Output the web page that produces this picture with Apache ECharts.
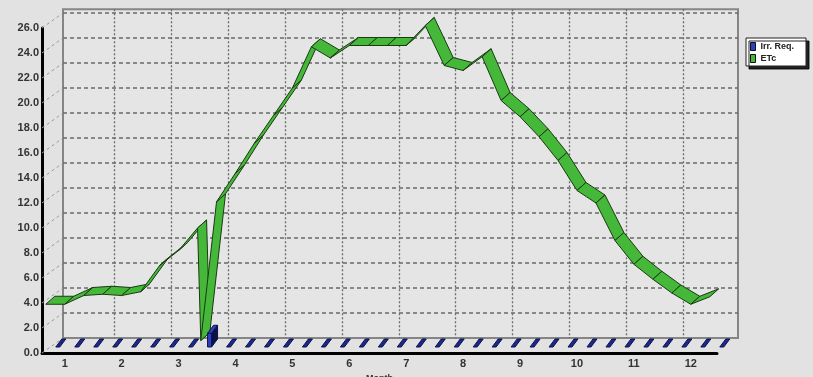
<!DOCTYPE html>
<html>
<head>
<meta charset="utf-8">
<script src="https://cdn.jsdelivr.net/npm/echarts@6/dist/echarts.min.js"></script>
<style>
	html, body { margin: 0; padding: 0; background: #e2e2e2; }
	#chart { width: 813px; height: 377px; }
</style>
</head>
<body>
<div id="chart"></div>
<script>
// month labels on the x axis
const months = [1, 2, 3, 4, 5, 6, 7, 8, 9, 10, 11, 12];
// y axis ticks
const yTicks = [0, 2, 4, 6, 8, 10, 12, 14, 16, 18, 20, 22, 24, 26];

// ETc per decade (3 per month), mm/dec
const etc = [
	3.9, 3.9, 4.6,   4.7, 4.6, 4.9,   7.0, 8.2, 10.0,
	12.1, 14.4, 16.8,   19.0, 21.2, 24.5,   23.6, 24.6, 24.6,
	24.6, 24.6, 26.2,   23.0, 22.6, 23.7,   20.2, 18.9, 17.3,
	15.4, 13.0, 12.0,   9.0, 7.1, 5.9,   4.8, 3.9, 4.5
];
// Irr. Req per decade
const irrReq = [
	0, 0, 0,   0, 0, 0,   0, 0, 1.1,
	0, 0, 0,   0, 0, 0,   0, 0, 0,
	0, 0, 0,   0, 0, 0,   0, 0, 0,
	0, 0, 0,   0, 0, 0,   0, 0, 0
];
// end of first crop / start of second one, between decade 9 and 10
const cropGapAfter = 8;
const cropGapX = 3.39;
const cropGapValue = 1.0;

const xMin = 0.6, xMax = 12.46;
const depth = [21, -15];          // 3d offset of the back wall
const ribbonDepth = [9, -8];
const green = '#45b83a', greenEdge = '#1a3a12';
const blue = '#2c40c0', blueDark = '#1a2890', blueEdge = '#0b1248';

// decade positions in month units (label sits on the middle decade)
const decadeX = months.flatMap(m => [m - 1/3, m, m + 1/3]);

const ribbonPts = [];
decadeX.forEach((x, i) => {
	ribbonPts.push([x, etc[i]]);
	if (i === cropGapAfter) ribbonPts.push([cropGapX, cropGapValue]);
});
const segments = [];
for (let i = 0; i < ribbonPts.length - 1; i++) {
	segments.push([ribbonPts[i][0], ribbonPts[i][1], ribbonPts[i+1][0], ribbonPts[i+1][1]]);
}

const font = 'Liberation Sans, Arial, sans-serif';
const chart = echarts.init(document.getElementById('chart'), null, {renderer: 'canvas'});

chart.setOption({
	backgroundColor: '#e2e2e2',
	animation: false,
	textStyle: {fontFamily: font},
	grid: [
		// front plane
		{left: 42, right: 96, top: 28, bottom: 24, outerBoundsMode: 'none'},
		// back wall
		{left: 63, right: 75, top: 9.25, bottom: 39, outerBoundsMode: 'none', show: true,
			backgroundColor: '#e5e5e5', borderColor: '#858585', borderWidth: 2},
		// vertical dotted lines of the back wall (month boundaries)
		{left: 57.3, right: 72.8, top: 9.25, bottom: 39, outerBoundsMode: 'none'}
	],
	legend: {
		data: ['Irr. Req.', 'ETc'],
		orient: 'vertical',
		left: 746, top: 38,
		padding: [4, 12, 3, 4],
		itemWidth: 5, itemHeight: 8, itemGap: 3,
		icon: 'rect',
		backgroundColor: '#ffffff',
		borderColor: '#222', borderWidth: 1,
		shadowColor: 'rgba(0,0,0,0.85)', shadowOffsetX: 3, shadowOffsetY: 3, shadowBlur: 0,
		itemStyle: {borderColor: '#111', borderWidth: 1},
		textStyle: {fontSize: 9, fontWeight: 'bold', color: '#222'}
	},
	xAxis: [
		{
			gridIndex: 0, type: 'value', min: xMin, max: xMax,
			name: 'Month', nameLocation: 'middle', nameGap: 16,
			nameTextStyle: {fontSize: 9, fontWeight: 'bold', color: '#333'},
			axisLine: {lineStyle: {color: '#000', width: 3}},
			axisTick: {show: false},
			axisLabel: {customValues: months, fontSize: 11, fontWeight: 'bold', color: '#333', margin: 5},
			splitLine: {show: false}
		},
		{gridIndex: 1, type: 'value', min: xMin, max: xMax, show: false},
		{
			gridIndex: 2, type: 'value', min: 0.5, max: 12.5, interval: 1,
			axisLine: {show: false}, axisTick: {show: false}, axisLabel: {show: false},
			splitLine: {show: true, showMinLine: false, showMaxLine: false,
				lineStyle: {color: '#6a6a6a', width: 1.3, type: [2, 2]}}
		}
	],
	yAxis: [
		{
			gridIndex: 0, type: 'value', min: 0, max: 26, interval: 2,
			axisLine: {show: true, lineStyle: {color: '#000', width: 3}},
			axisTick: {show: false},
			axisLabel: {fontSize: 11, fontWeight: 'bold', color: '#333', margin: 3, formatter: v => v.toFixed(1)},
			splitLine: {show: false}
		},
		{
			gridIndex: 1, type: 'value', min: 0, max: 26.3, interval: 2,
			axisLine: {show: false}, axisTick: {show: false}, axisLabel: {show: false},
			splitLine: {show: true, showMinLine: false, showMaxLine: false,
				lineStyle: {color: '#6a6a6a', width: 1.5, type: [4, 3]}}
		},
		{gridIndex: 2, type: 'value', min: 0, max: 1, show: false}
	],
	series: [
		{
			// dashed connectors from the front axis ticks to the back wall
			type: 'custom', xAxisIndex: 0, yAxisIndex: 0, z: 1, silent: true,
			data: yTicks.map(v => [xMin, v]),
			renderItem: (params, api) => {
				const p = api.coord([api.value(0), api.value(1)]);
				return {
					type: 'line',
					shape: {x1: p[0], y1: p[1], x2: p[0] + depth[0], y2: p[1] + depth[1]},
					style: {stroke: '#9a9a9a', lineWidth: 1, lineDash: [3, 3]}
				};
			}
		},
		{
			name: 'ETc', type: 'custom', xAxisIndex: 0, yAxisIndex: 0, z: 3,
			itemStyle: {color: green},
			data: segments,
			encode: {x: [0, 2], y: [1, 3]},
			renderItem: (params, api) => {
				const a = api.coord([api.value(0), api.value(1)]);
				const b = api.coord([api.value(2), api.value(3)]);
				const [dx, dy] = ribbonDepth;
				return {
					type: 'polygon',
					shape: {points: [a, b, [b[0] + dx, b[1] + dy], [a[0] + dx, a[1] + dy]]},
					style: {fill: green, stroke: greenEdge, lineWidth: 1}
				};
			}
		},
		{
			name: 'Irr. Req.', type: 'custom', xAxisIndex: 0, yAxisIndex: 0, z: 4,
			itemStyle: {color: blue},
			data: decadeX.map((x, i) => [x, irrReq[i]]),
			renderItem: (params, api) => {
				const base = api.coord([api.value(0), 0]);
				const top = api.coord([api.value(0), api.value(1)]);
				const x0 = base[0] + 10, yb = base[1] - 6, w = 4, ddx = 6, ddy = -8;
				const h = base[1] - top[1];
				const yt = yb - h;
				const children = [];
				if (h > 0.5) {
					children.push({type: 'polygon', shape: {points: [[x0 + w, yb], [x0 + w + ddx, yb + ddy], [x0 + w + ddx, yt + ddy], [x0 + w, yt]]},
						style: {fill: blueEdge, stroke: blueEdge, lineWidth: 1}});
					children.push({type: 'rect', shape: {x: x0, y: yt, width: w, height: h},
						style: {fill: blue, stroke: blueEdge, lineWidth: 1}});
				}
				children.push({type: 'polygon', shape: {points: [[x0, yt], [x0 + w, yt], [x0 + w + ddx, yt + ddy], [x0 + ddx, yt + ddy]]},
					style: {fill: h > 0.5 ? blue : blueDark, stroke: blueEdge, lineWidth: 1}});
				return {type: 'group', children};
			}
		}
	]
});
</script>
</body>
</html>
